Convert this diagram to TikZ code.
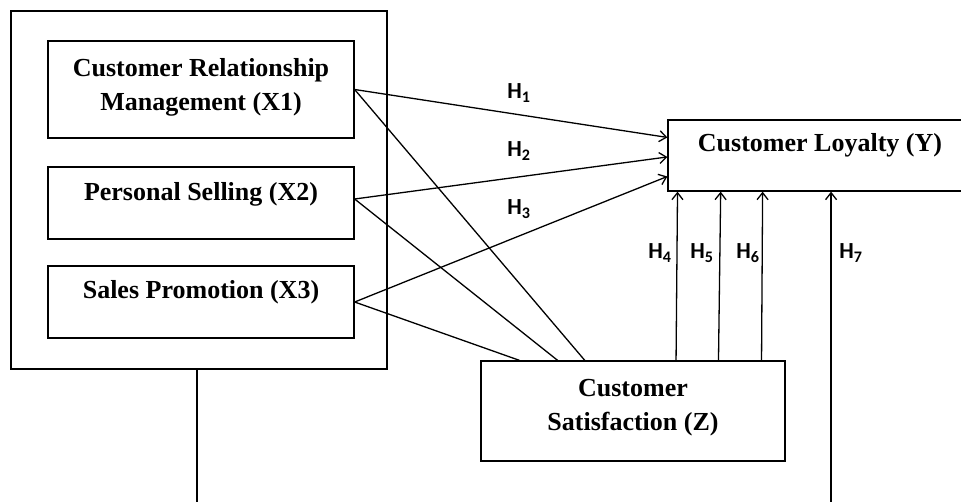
\documentclass[tikz,border=0pt]{standalone}
\usepackage{fontspec}
\setmainfont{Liberation Serif}
\newfontfamily\hfont{Carlito}
\usetikzlibrary{arrows.meta,calc}
\begin{document}
\begin{tikzpicture}[x=1pt,y=-1pt,
  box/.style={draw, line width=1.3pt, rectangle, inner sep=0pt},
  lbl/.style={font=\fontsize{26}{34}\selectfont\bfseries, align=center, inner sep=0pt},
  hyp/.style={font=\fontsize{23}{26}\selectfont\hfont\bfseries, inner sep=0pt},
  link/.style={line width=1.3pt},
  arr/.style={link, -{Straight Barb[length=7pt,width=11pt,line width=1.3pt]}}]
\useasboundingbox (0,0) rectangle (961,501);
% boxes
\node[box, minimum width=376pt, minimum height=358pt] (outer) at (199,190) {};
\node[box, minimum width=306pt, minimum height=97pt] (x1) at (201,89.5) {};
\node[lbl] (x1t) at (201,87) {Customer Relationship\\Management (X1)};
\node[box, minimum width=306pt, minimum height=72pt] (x2) at (201,203) {};
\node[lbl] (x2t) at (201,194) {Personal Selling (X2)};
\node[box, minimum width=306pt, minimum height=72pt] (x3) at (201,302) {};
\node[lbl] (x3t) at (201,292) {Sales Promotion (X3)};
\node[box, minimum width=307pt, minimum height=71pt] (ly) at (821.5,155.5) {};
\node[lbl] (lyt) at (820,145) {Customer Loyalty (Y)};
\node[box, minimum width=304pt, minimum height=100pt] (cs) at (633,411) {};
\node[lbl] (cst) at (633,408) {Customer\\Satisfaction (Z)};
% direct paths to loyalty
\draw[arr] (x1.east) -- ($(ly.north west)!0.25!(ly.south west)$);
\draw[arr] ($(x2.east)+(0,-4)$) -- ($(ly.north west)!0.52!(ly.south west)$);
\draw[arr] (x3.east) -- ($(ly.north west)!0.79!(ly.south west)$);
% paths to satisfaction
\draw[link] (x1.east) -- ($(cs.north west)!0.342!(cs.north east)$);
\draw[link] ($(x2.east)+(0,-4)$) -- ($(cs.north west)!0.253!(cs.north east)$);
\draw[link] (x3.east) -- ($(cs.north west)!0.128!(cs.north east)$);
% satisfaction to loyalty
\draw[arr] ($(cs.north west)!0.641!(cs.north east)$) -- ($(ly.south west)!0.033!(ly.south east)$);
\draw[arr] ($(cs.north west)!0.780!(cs.north east)$) -- ($(ly.south west)!0.173!(ly.south east)$);
\draw[arr] ($(cs.north west)!0.921!(cs.north east)$) -- ($(ly.south west)!0.309!(ly.south east)$);
% moderation path
\coordinate (d1) at ($(outer.south west)!0.495!(outer.south east)$);
\draw[arr] (d1) -- ++(0,150) -| ($(ly.south west)!0.531!(ly.south east)$);
% labels
\node[hyp] (h1) at (519,93) {H\textsubscript{1}};
\node[hyp] (h2) at (519,151) {H\textsubscript{2}};
\node[hyp] (h3) at (519,209) {H\textsubscript{3}};
\node[hyp] (h4) at (660,253) {H\textsubscript{4}};
\node[hyp] (h5) at (702,253) {H\textsubscript{5}};
\node[hyp] (h6) at (748,253) {H\textsubscript{6}};
\node[hyp] (h7) at (851,253) {H\textsubscript{7}};
\end{tikzpicture}
\end{document}
